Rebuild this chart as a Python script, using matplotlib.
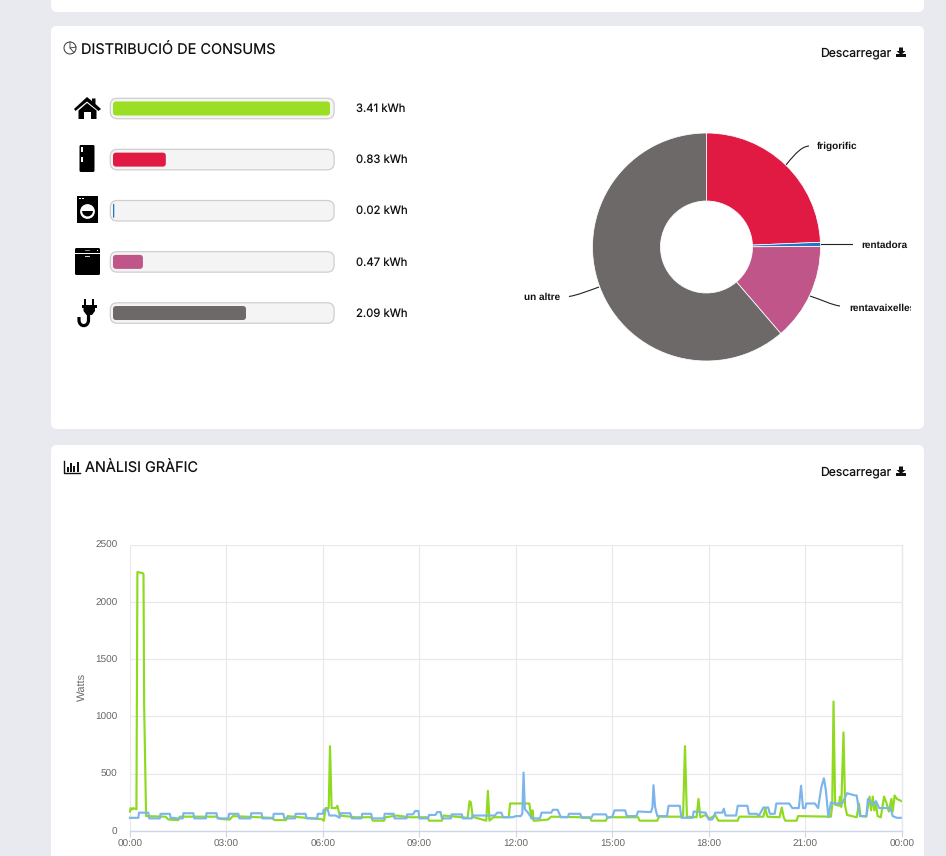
import matplotlib
matplotlib.use("Agg")
import matplotlib.pyplot as plt
from matplotlib.patches import FancyBboxPatch, Polygon, Rectangle, Circle, Wedge, PathPatch
from matplotlib.path import Path

plt.rcParams["text.hinting"] = "no_hinting"
plt.rcParams["text.hinting_factor"] = 1

# ---------- data ----------
appliances = ["casa", "frigorific", "rentadora", "rentavaixelles", "un altre"]
kwh = [3.41, 0.83, 0.02, 0.47, 2.09]
kwh_labels = ["3.41 kWh", "0.83 kWh", "0.02 kWh", "0.47 kWh", "2.09 kWh"]
bar_colors = ["#9BDE23", "#E01A43", "#1F78C1", "#BF5589", "#6D6969"]

pie_labels = ["frigorific", "rentadora", "rentavaixelles", "un altre"]
pie_values = [0.83, 0.02, 0.47, 2.09]
pie_colors = ["#E01A43", "#1F78C1", "#BF5589", "#6D6969"]

hour_ticks = [0, 3, 6, 9, 12, 15, 18, 21, 24]
hour_labels = ["00:00", "03:00", "06:00", "09:00", "12:00", "15:00", "18:00", "21:00", "00:00"]
watt_ticks = [0, 500, 1000, 1500, 2000, 2500]

green_t = [0.0, 0.02, 0.04, 0.08, 0.1, 0.2, 0.215, 0.23, 0.4, 0.42, 0.44, 0.5, 1.1, 1.2, 1.5, 1.55, 2.7, 2.8, 3.1, 3.2,
           4.4, 4.5, 4.85, 4.9, 5.85, 5.95, 6.03, 6.08, 6.18, 6.22, 6.27, 6.4, 6.45, 6.52, 7.0, 7.5, 7.55, 7.9, 7.95,
           8.3, 8.7, 9.25, 9.3, 9.7, 9.75, 10.5, 10.56, 10.6, 10.66, 10.7, 11.08, 11.13, 11.18, 11.3, 11.78, 11.82,
           12.42, 12.48, 12.52, 12.55, 12.62, 13.0, 13.1, 14.0, 14.3, 14.35, 14.8, 14.85, 15.8, 15.85, 16.4, 16.45,
           17.2, 17.26, 17.32, 17.62, 17.68, 17.74, 17.9, 18.0, 18.1, 18.2, 18.3, 18.9, 18.95, 19.7, 19.76, 19.82,
           20.2, 20.27, 20.33, 20.38, 20.73, 20.78, 21.8, 21.84, 21.88, 21.93, 22.05, 22.08, 22.12, 22.19, 22.24,
           22.3, 22.6, 22.67, 22.72, 22.9, 23.0, 23.05, 23.1, 23.15, 23.2, 23.25, 23.35, 23.45, 23.52, 23.6, 23.68,
           23.72, 23.78, 23.85, 24.0]
green_v = [170, 200, 190, 190, 200, 190, 1200, 2260, 2250, 2240, 1100, 130, 125, 100, 95, 125, 125, 105, 100, 130,
           115, 95, 95, 130, 105, 105, 90, 200, 200, 740, 200, 200, 220, 135, 120, 120, 90, 90, 120,
           135, 120, 120, 90, 90, 135, 115, 260, 250, 120, 120, 90, 350, 90, 120, 120, 240,
           240, 110, 180, 90, 90, 100, 125, 120, 120, 90, 90, 120, 120, 90, 90, 125,
           125, 740, 125, 120, 280, 120, 140, 110, 120, 140, 90, 90, 125, 125, 200, 125,
           120, 205, 120, 90, 90, 130, 125, 230, 1130, 230, 220, 300, 210, 860, 220,
           140, 120, 240, 130, 125, 300, 180, 300, 180, 240, 130, 120, 300, 250, 170, 280,
           170, 310, 280, 260]

blue_t = [0.0, 0.26, 0.28, 0.57, 0.6, 0.93, 0.95, 1.24, 1.27, 1.35, 1.45, 1.64, 1.66, 1.97, 2.0, 2.36, 2.38, 2.69, 2.72,
          3.06, 3.08, 3.37, 3.4, 3.75, 3.77, 4.09, 4.12, 4.45, 4.47, 4.77, 4.8, 5.13, 5.15, 5.46, 5.49, 5.82, 5.84,
          6.0, 6.02, 6.15, 6.2, 6.4, 6.52, 6.55, 6.85, 6.9, 7.2, 7.22, 7.5, 7.53, 7.9, 7.92, 8.2, 8.23, 8.6, 8.62,
          8.8, 8.87, 8.97, 9.0, 9.27, 9.3, 9.5, 9.55, 9.66, 9.7, 9.98, 10.0, 10.32, 10.35, 10.63, 10.65, 11.35,
          11.42, 11.55, 11.6, 11.9, 12.0, 12.15, 12.2, 12.24, 12.28, 12.35, 12.5, 12.75, 12.8, 13.1, 13.15, 13.3,
          13.4, 13.62, 13.65, 14.0, 14.05, 14.35, 14.4, 14.8, 14.85, 15.0, 15.07, 15.4, 15.45, 15.75, 15.8, 16.2,
          16.25, 16.28, 16.33, 16.4, 16.7, 16.75, 17.1, 17.15, 17.5, 17.53, 17.9, 18.0, 18.1, 18.15, 18.2, 18.42,
          18.47, 18.52, 18.85, 18.9, 19.2, 19.25, 19.5, 19.55, 19.7, 19.85, 19.9, 20.05, 20.1, 20.5, 20.6, 20.8,
          20.87, 20.93, 21.0, 21.03, 21.3, 21.4, 21.5, 21.58, 21.64, 21.72, 21.8, 21.9, 22.0, 22.15, 22.3, 22.55,
          22.6, 22.7, 22.9, 22.95, 23.1, 23.2, 23.3, 23.4, 23.65, 23.72, 23.85, 24.0]
blue_v = [115, 115, 160, 160, 110, 110, 150, 150, 110, 115, 110, 110, 155, 155, 110, 110, 155, 155, 110,
          110, 150, 150, 110, 110, 155, 155, 110, 110, 150, 150, 110, 110, 150, 150, 110, 110, 150,
          150, 185, 185, 135, 135, 115, 155, 155, 110, 110, 150, 150, 110, 110, 150, 150, 110, 110, 145,
          145, 175, 175, 110, 110, 140, 140, 165, 165, 110, 110, 145, 145, 110, 110, 135, 135,
          160, 160, 120, 120, 130, 130, 150, 510, 190, 170, 110, 110, 160, 160, 185, 185,
          120, 120, 150, 150, 115, 115, 145, 145, 115, 125, 180, 180, 130, 130, 170, 165,
          210, 400, 210, 130, 130, 220, 220, 115, 115, 170, 160, 100, 100, 120, 160, 160,
          195, 135, 135, 220, 220, 150, 150, 130, 205, 205, 150, 150, 240, 240, 200, 200,
          395, 200, 200, 240, 240, 200, 380, 460, 360, 120, 250, 240, 240, 240, 330, 310,
          310, 130, 130, 280, 230, 260, 200, 200, 200, 130, 115, 115]

# ---------- helpers ----------
W, H = 946, 856
DPI = 100
fig = plt.figure(figsize=(W / DPI, H / DPI), dpi=DPI, facecolor="#E9EAF0")

def axes_px(x0, y0, x1, y1, **kw):
    return fig.add_axes([x0 / W, 1 - y1 / H, (x1 - x0) / W, (y1 - y0) / H], **kw)

TITLE_FONT = ["Inter", "DejaVu Sans"]
CHART_FONT = ["Liberation Sans", "DejaVu Sans"]

# page layer in pixel units
page = axes_px(0, 0, W, H, zorder=0)
page.set_xlim(0, W); page.set_ylim(H, 0); page.axis("off")
for y0, y1 in [(-40, 12), (26, 429), (445, 900)]:
    page.add_patch(FancyBboxPatch((51, y0), 873, y1 - y0, boxstyle="round,pad=0,rounding_size=6",
                                  fc="white", ec="none"))

page.text(81, 50.3, "DISTRIBUCIÓ DE CONSUMS", fontsize=10.45, family=TITLE_FONT, va="center", color="#111111")
page.text(85, 468.3, "ANÀLISI GRÀFIC", fontsize=10.4, family=TITLE_FONT, va="center", color="#111111")
for y in (52.5, 471.5):
    page.text(820, y + 0.8, "Descarregar", fontsize=8.75, family=TITLE_FONT, va="center", color="#111111")
    page.add_patch(Polygon([(899, y - 5), (903, y - 5), (903, y - 1.5), (905.5, y - 1.5), (901, y + 2.5),
                            (896.5, y - 1.5), (899, y - 1.5)], fc="#111111", ec="none"))
    page.add_patch(Rectangle((896, y + 1.5), 10, 3, fc="#111111", ec="none"))

# title icons
page.add_patch(Circle((70, 48), 6, fc="none", ec="#333333", lw=0.7))
page.plot([70, 70, 74], [42, 48, 52.5], color="#333333", lw=0.6)
page.plot([70, 76], [48, 47], color="#333333", lw=0.6)
page.plot([64, 64, 80], [461, 473, 473], color="#111111", lw=1)
for x, h in [(67, 5), (70, 9), (73, 6), (76.5, 10)]:
    page.add_patch(Rectangle((x, 472 - h), 2, h, fc="#111111", ec="none"))

# appliance icons
k = "black"
page.add_patch(Polygon([(87, 97), (74, 109), (75.5, 111), (87, 101.5), (98.5, 111), (101, 109), (95.5, 104),
                        (95.5, 98.5), (92, 98.5), (92, 101)], fc=k, ec="none"))
page.add_patch(Polygon([(78.5, 110.5), (87, 103), (96.5, 110.5), (96.5, 119), (91, 119), (91, 112), (84, 112),
                        (84, 119), (78.5, 119)], fc=k, ec="none"))

page.add_patch(FancyBboxPatch((79.5, 145), 15, 27, boxstyle="round,pad=0,rounding_size=1.5", fc=k, ec="none"))
page.add_patch(Rectangle((79.5, 154.5), 15, 0.6, fc="white", ec="none"))
page.add_patch(Rectangle((81, 147), 1.5, 5, fc="white", ec="none"))
page.add_patch(Rectangle((81, 157), 1.5, 5, fc="white", ec="none"))

page.add_patch(Rectangle((77, 196), 21, 27, fc=k, ec="none"))
page.add_patch(Rectangle((77, 200.5), 21, 0.8, fc="white", ec="none"))
page.add_patch(Rectangle((79, 197.5), 2, 1.5, fc="white", ec="none"))
page.add_patch(Rectangle((82, 197.5), 2, 1.5, fc="white", ec="none"))
page.add_patch(Circle((87.5, 211.5), 7.4, fc="white", ec="none"))
page.add_patch(Wedge((87.5, 211), 5.4, 0, 180, fc=k, ec="none"))

page.add_patch(FancyBboxPatch((75, 248), 25, 27, boxstyle="round,pad=0,rounding_size=1.5", fc=k, ec="none"))
page.add_patch(Rectangle((75, 253), 25, 0.9, fc="white", ec="none"))
page.add_patch(Rectangle((85, 250), 5, 0.8, fc="#888888", ec="none"))
page.add_patch(Rectangle((97, 249.5), 1.2, 1.2, fc="white", ec="none"))
page.add_patch(Rectangle((84.5, 256), 5, 1.3, fc="#cccccc", ec="none"))

page.add_patch(Rectangle((83.5, 299), 2.5, 7, fc=k, ec="none"))
page.add_patch(Rectangle((91.5, 299), 2.5, 7, fc=k, ec="none"))
page.add_patch(Rectangle((81.5, 305), 15.5, 3, fc=k, ec="none"))
page.add_patch(Polygon([(83.5, 308), (95, 308), (95, 311), (92, 315), (86.5, 315), (83.5, 311)], fc=k, ec="none"))
page.add_patch(PathPatch(Path([(88.5, 314), (88.5, 320), (88.5, 327.5), (79, 327.5), (79, 320), (79, 317)],
                              [Path.MOVETO, Path.LINETO, Path.CURVE4, Path.CURVE4, Path.CURVE4, Path.LINETO]),
                         fc="none", ec=k, lw=2.3))

# ---------- progress bars ----------
u = 3.41 / 217
row = 51.15
axb = axes_px(110, 108.5 - row / 2, 334, 313 + row / 2, zorder=2)
axb.set_xlim(-3 * u, 3.41 + 4 * u)
axb.set_ylim(4.5, -0.5)
axb.axis("off")
aspect = (1 / row) / u
for i, (v, col, lab) in enumerate(zip(kwh, bar_colors, kwh_labels)):
    h_track = 20.5 / row
    axb.add_patch(FancyBboxPatch((-3 * u + 0.3 * u, i - h_track / 2), 3.41 + 6.8 * u, h_track,
                                 boxstyle=f"round,pad=0,rounding_size={7 * u}", mutation_aspect=aspect,
                                 fc="#F4F4F4", ec="#CFCFCF", lw=0.9, clip_on=False))
    h_bar = 14 / row
    r = min(3.2 * u, v / 2)
    axb.add_patch(FancyBboxPatch((0, i - h_bar / 2), v, h_bar,
                                 boxstyle=f"round,pad=0,rounding_size={r}", mutation_aspect=aspect,
                                 fc=col, ec="none"))
    page.text(355.5, 108.5 + i * row + 0.4, lab, fontsize=8.15, family=TITLE_FONT, va="center", color="#111111")

# ---------- donut ----------
R = 114
cx, cy = 706.5, 247
axp = axes_px(cx - R, cy - R, cx + R, cy + R, zorder=2)
axp.pie(pie_values, colors=pie_colors, startangle=90, counterclock=False, radius=1,
        wedgeprops=dict(width=1 - 46 / R, edgecolor="white", linewidth=0.55))
axp.set_xlim(-1, 1); axp.set_ylim(-1, 1)
axp.set_position([(cx - R) / W, 1 - (cy + R) / H, 2 * R / W, 2 * R / H])

label_pos = [(817, 146.5, "left"), (861.5, 245.5, "left"), (849, 308, "left"), (560, 297.5, "right")]
connectors = [[(786, 165), (797, 151), (803, 146.5), (809, 146)],
              [(820, 244.5), (833, 244.5), (845, 244.5), (853, 244.5)],
              [(810, 296), (822, 300), (832, 305), (840, 306)],
              [(599, 287), (588, 291), (578, 295), (569, 296.5)]]
for (x, y, ha), name, c in zip(label_pos, pie_labels, connectors):
    t = page.text(x, y, name, fontsize=7.0, fontweight="bold", family=CHART_FONT, va="center", ha=ha,
                  color="#111111", zorder=5)
    t.set_clip_path(Rectangle((0, 0), 911, 2000, transform=page.transData))
    t.set_clip_on(True)
    page.add_patch(PathPatch(Path(c, [Path.MOVETO, Path.CURVE4, Path.CURVE4, Path.CURVE4]), fc="none",
                             ec="#222222", lw=0.8, zorder=5))

# ---------- line chart ----------
ax = axes_px(130, 544.5, 901.7, 831, zorder=2)
ax.set_xlim(0, 24)
ax.set_ylim(0, 2500)
ax.set_facecolor("none")
ax.set_xticks(hour_ticks, hour_labels)
ax.set_yticks(watt_ticks)
ax.grid(True, color="#E8E8EC", lw=0.8)
ax.set_axisbelow(True)
for s in ["top", "left"]:
    ax.spines[s].set_visible(False)
ax.spines["right"].set_color("#E6E8F0")
ax.spines["right"].set_linewidth(1.0)
ax.spines["bottom"].set_color("#CCD6EB")
ax.spines["bottom"].set_linewidth(1.0)
ax.tick_params(axis="y", length=0, pad=9, labelsize=7.2, labelcolor="#666666")
ax.tick_params(axis="x", length=4, width=0.8, color="#CCD6EB", pad=2.5, labelsize=7.2, labelcolor="#666666")
for t in ax.get_xticklabels() + ax.get_yticklabels():
    t.set_fontfamily(CHART_FONT)
ax.set_ylabel("Watts", fontsize=7.6, color="#666666", family=CHART_FONT, labelpad=0)
ax.yaxis.set_label_coords((87.5 - 130) / 771.7, (831 - 687) / 286.5)
ax.plot(green_t, green_v, color="#8FD91F", lw=1.55, solid_joinstyle="round", label="green", clip_on=False)
ax.plot(blue_t, blue_v, color="#7CB5EC", lw=1.55, solid_joinstyle="round", label="blue", clip_on=False)

fig.savefig("out.png", dpi=DPI, facecolor=fig.get_facecolor())
